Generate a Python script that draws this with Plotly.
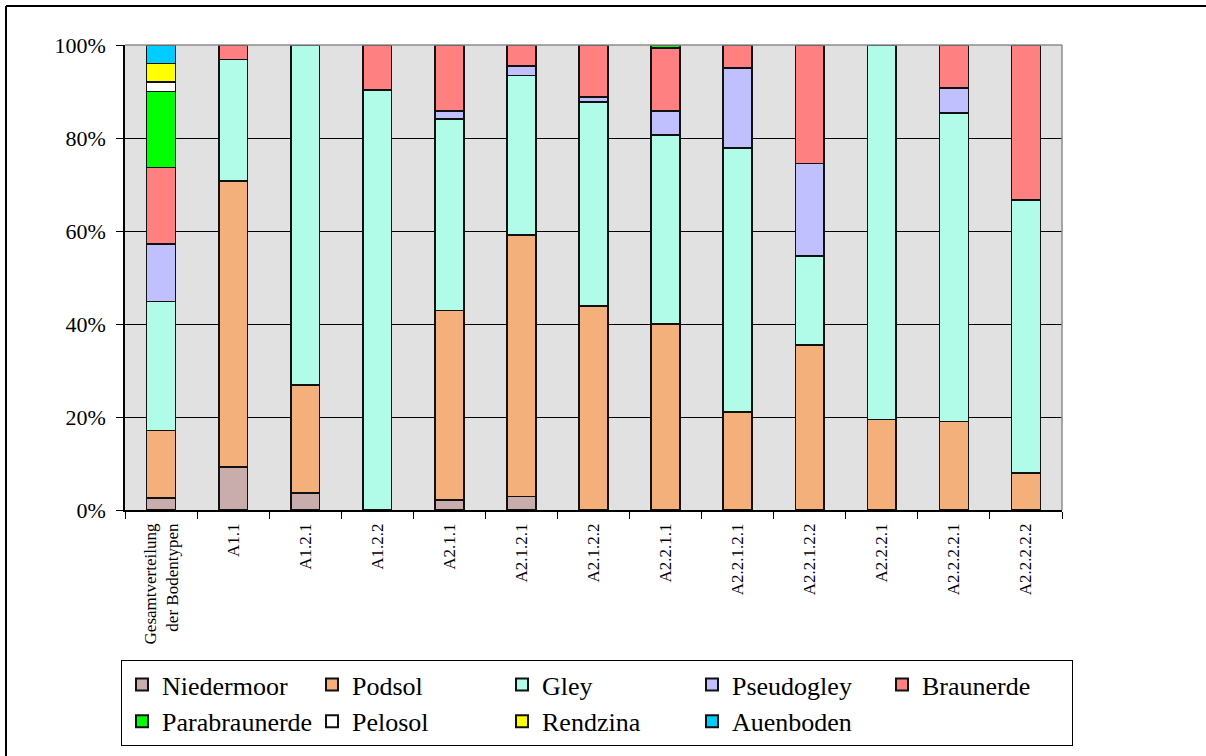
import plotly.graph_objects as go

# Bodentypen je Teilgebiet, Anteile in Prozent (None = nicht vorhanden)
categories = ["Gesamtverteilung<br>der Bodentypen", "A1.1", "A1.2.1", "A1.2.2", "A2.1.1",
              "A2.1.2.1", "A2.1.2.2", "A2.2.1.1", "A2.2.1.2.1", "A2.2.1.2.2",
              "A2.2.2.1", "A2.2.2.2.1", "A2.2.2.2.2"]

niedermoor    = [2.6, 9.3, 3.7, None, 2.2, 2.9, None, None, None, None, None, None, None]
podsol        = [14.5, 61.5, 23.2, None, 40.7, 56.2, 43.9, 40.0, 21.1, 35.5, 19.5, 19.0, 7.9]
gley          = [27.7, 26.1, 73.1, 90.3, 41.2, 34.3, 43.9, 40.6, 56.8, 19.1, 80.5, 66.4, 58.8]
pseudogley    = [12.4, None, None, None, 1.7, 2.1, 1.0, 5.2, 17.2, 19.9, None, 5.4, None]
braunerde     = [16.5, 3.1, None, 9.7, 14.2, 4.5, 11.2, 13.5, 4.9, 25.5, None, 9.2, 33.3]
parabraunerde = [16.3, None, None, None, None, None, None, 0.7, None, None, None, None, None]
pelosol       = [2.1, None, None, None, None, None, None, None, None, None, None, None, None]
rendzina      = [3.9, None, None, None, None, None, None, None, None, None, None, None, None]
auenboden     = [4.0, None, None, None, None, None, None, None, None, None, None, None, None]

series = [
    ("Niedermoor", niedermoor, "#C9ACAC"),
    ("Podsol", podsol, "#F3B07B"),
    ("Gley", gley, "#B0FCE8"),
    ("Pseudogley", pseudogley, "#C0C0FF"),
    ("Braunerde", braunerde, "#FF8080"),
    ("Parabraunerde", parabraunerde, "#00FF00"),
    ("Pelosol", pelosol, "#FFFFFF"),
    ("Rendzina", rendzina, "#FFFF00"),
    ("Auenboden", auenboden, "#00CCFF"),
]

FONT = "Liberation Serif"

fig = go.Figure()
for name, vals, color in series:
    fig.add_trace(go.Bar(
        name=name, x=categories, y=vals,
        marker=dict(color=color, line=dict(color="#111111", width=1.6)),
    ))

W, H = 1206, 756
L, R, T, B = 125, 144, 45, 246
pw, ph = W - L - R, H - T - B

def px_x(p):
    return (p - L) / pw

def px_y(p):
    return (H - B - p) / ph

fig.update_layout(
    width=W, height=H,
    margin=dict(l=L, r=R, t=T, b=B, autoexpand=False),
    barmode="stack", barnorm="percent", bargap=0.6,
    paper_bgcolor="white", plot_bgcolor="#E1E1E1",
    font=dict(family=FONT, color="black"),
    showlegend=True,
    legend=dict(
        orientation="h", x=px_x(121), xanchor="left", y=px_y(660), yanchor="top",
        traceorder="normal", entrywidth=145, entrywidthmode="pixels",
        bordercolor="black", borderwidth=1, bgcolor="white",
        font=dict(family=FONT, size=26, color="black"),
        itemsizing="constant", tracegroupgap=0,
    ),
    xaxis=dict(
        type="category", tickangle=-90, tickfont=dict(family=FONT, size=17),
        showline=True, linecolor="black", linewidth=1.5,
        ticks="outside", ticklen=7, tickcolor="black", tickson="boundaries",
        showgrid=False, ticklabelstandoff=5,
    ),
    yaxis=dict(
        range=[0, 100], dtick=20, ticksuffix="%",
        tickfont=dict(family=FONT, size=22),
        showline=True, linecolor="black", linewidth=1.5,
        ticks="outside", ticklen=7, tickcolor="black",
        showgrid=True, gridcolor="black", gridwidth=1,
        zeroline=False, ticklabelstandoff=6,
    ),
    shapes=[
        # gray frame of the plot area (top and right)
        dict(type="line", xref="paper", yref="paper", x0=0, x1=1, y0=1, y1=1,
             line=dict(color="#8C8C8C", width=1.5), layer="above"),
        dict(type="line", xref="paper", yref="paper", x0=1, x1=1, y0=0, y1=1,
             line=dict(color="#8C8C8C", width=1.5), layer="above"),
        # outer frame of the chart object
        dict(type="line", xref="paper", yref="paper", x0=px_x(6), x1=px_x(1300),
             y0=px_y(6), y1=px_y(6), line=dict(color="black", width=2)),
        dict(type="line", xref="paper", yref="paper", x0=px_x(6), x1=px_x(6),
             y0=px_y(6), y1=px_y(800), line=dict(color="black", width=2)),
    ],
)

fig.write_html("out.html")
